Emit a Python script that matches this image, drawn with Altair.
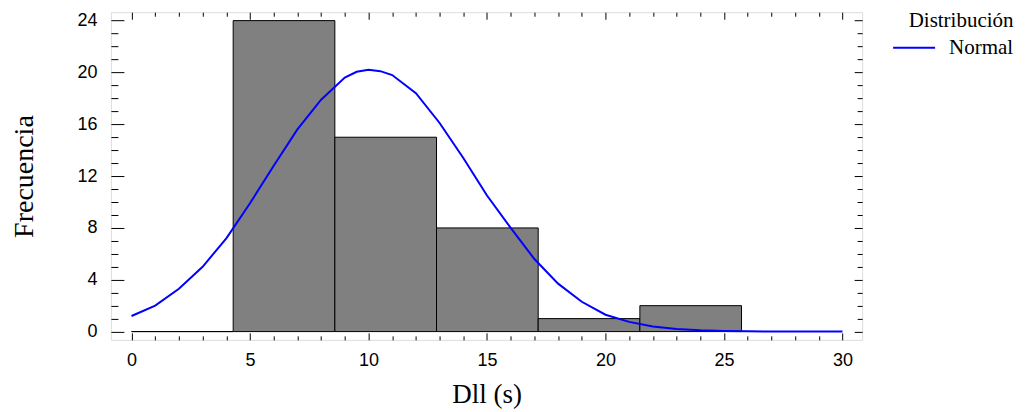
import altair as alt
import pandas as pd

# Histogram bins (Dll in seconds) and frequencies
bin_start = [0.0, 4.29, 8.58, 12.87, 17.16, 21.45]
bin_end = [4.29, 8.58, 12.87, 17.16, 21.45, 25.74]
counts = [0, 24, 15, 8, 1, 2]

# Fitted normal curve
curve_x = [0, 1, 2, 3, 4, 5, 6, 7, 8, 9, 9.5, 10, 10.5, 11, 12, 13, 14, 15,
           16, 17, 18, 19, 20, 21, 22, 23, 24, 25, 26, 27, 28, 29, 30]
curve_y = [1.2, 2.0, 3.3, 5.0, 7.2, 9.9, 12.8, 15.6, 17.9, 19.6, 20.05, 20.2,
           20.1, 19.8, 18.4, 16.1, 13.4, 10.5, 8.0, 5.6, 3.7, 2.3, 1.3, 0.75,
           0.4, 0.2, 0.1, 0.05, 0.02, 0.01, 0.0, 0.0, 0.0]

x_major = [0, 5, 10, 15, 20, 25, 30]
x_minor = [i for i in range(31) if i % 5]
y_major = [0, 4, 8, 12, 16, 20, 24]
y_minor = [i for i in range(25) if i % 4]

W, H = 752, 328
X_DOM = [-0.87, 30.83]
Y_DOM = [-0.64, 24.65]

bins_df = pd.DataFrame({"x0": bin_start, "x1": bin_end, "count": counts})
curve_df = pd.DataFrame({"x": curve_x, "y": curve_y, "dist": ["Normal"] * len(curve_x)})

xs = alt.Scale(domain=X_DOM, nice=False, zero=False)
ys = alt.Scale(domain=Y_DOM, nice=False, zero=False)

SANS = "Liberation Sans"
SERIF = "Liberation Serif"


def tick_axis(orient, values, size, offset):
    return alt.Axis(orient=orient, values=values, tickSize=size, labels=False,
                    domain=False, grid=False, title=None, offset=offset,
                    tickColor="#000000", tickWidth=1)


bars = alt.Chart(bins_df).mark_rect(fill="#808080", stroke="#000000", strokeWidth=1).encode(
    x=alt.X("x0:Q", scale=xs,
            axis=alt.Axis(orient="bottom", values=x_major, ticks=False, domain=False,
                          grid=False, title="Dll (s)", labelFont=SANS, labelFontSize=18,
                          labelColor="#000000", labelPadding=12, titleFont=SERIF,
                          titleFontSize=27, titleFontWeight="normal", titleColor="#000000",
                          titlePadding=12)),
    x2="x1:Q",
    y=alt.Y("count:Q", scale=ys,
            axis=alt.Axis(orient="left", values=y_major, ticks=False, domain=False,
                          grid=False, title="Frecuencia", labelFont=SANS, labelFontSize=18,
                          labelColor="#000000", labelPadding=14, titleFont=SERIF,
                          titleFontSize=28, titleFontWeight="normal", titleColor="#000000",
                          titlePadding=38)),
    y2=alt.datum(0),
)

line = alt.Chart(curve_df).mark_line(strokeWidth=2).encode(
    x=alt.X("x:Q", scale=xs, axis=tick_axis("top", x_major, 7, -H)),
    y=alt.Y("y:Q", scale=ys, axis=tick_axis("right", y_major, 13, -W)),
    color=alt.Color("dist:N", scale=alt.Scale(domain=["Normal"], range=["#0000FF"]),
                    legend=alt.Legend(orient="none", legendX=792.5, legendY=-2,
                                      title="Distribución", titleFont=SERIF,
                                      titleFontSize=21, titleFontWeight="normal",
                                      titleColor="#000000", titleAnchor="end",
                                      titlePadding=5, labelFont=SERIF, labelFontSize=21,
                                      labelColor="#000000", symbolType="M-2,0H2",
                                      symbolSize=441, symbolStrokeWidth=2,
                                      labelOffset=23.5)),
)

t1 = alt.Chart(curve_df).mark_point(opacity=0).encode(
    x=alt.X("x:Q", scale=xs, axis=tick_axis("top", x_minor, 4, -H)),
    y=alt.Y("y:Q", scale=ys, axis=tick_axis("right", y_minor, 7, -W)),
)
t2 = alt.Chart(curve_df).mark_point(opacity=0).encode(
    x=alt.X("x:Q", scale=xs, axis=tick_axis("bottom", x_major, 7, -H)),
    y=alt.Y("y:Q", scale=ys, axis=tick_axis("left", y_major, 8, -W)),
)
t3 = alt.Chart(curve_df).mark_point(opacity=0).encode(
    x=alt.X("x:Q", scale=xs, axis=tick_axis("bottom", x_minor, 4, -H)),
    y=alt.Y("y:Q", scale=ys, axis=tick_axis("left", y_minor, 5, -W)),
)

chart = alt.layer(bars, line, t1, t2, t3).resolve_axis(
    x="independent", y="independent"
).properties(
    width=W, height=H,
    autosize=alt.AutoSizeParams(type="none"),
    padding={"left": 103, "top": 4, "right": 160, "bottom": 75},
).configure_view(
    stroke="#000000", strokeWidth=1
).configure(background="#ffffff")

chart.save("out.html", embed_options={"renderer": "svg", "actions": False})
